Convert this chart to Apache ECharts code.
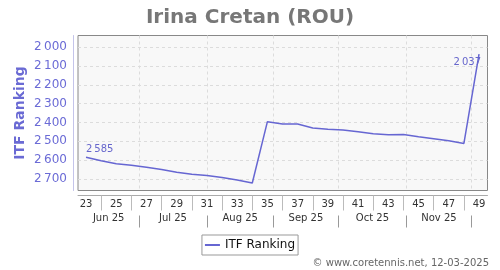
<!DOCTYPE html>
<html>
<head>
<meta charset="utf-8">
<script src="https://cdn.jsdelivr.net/npm/echarts@6.0.0/dist/echarts.min.js"></script>
<style>html,body{margin:0;padding:0;background:#fff}#c{width:500px;height:270px}</style>
</head>
<body>
<div id="c"></div>
<script>
var weeks = [23,24,25,26,27,28,29,30,31,32,33,34,35,36,37,38,39,40,41,42,43,44,45,46,47,48,49];
var ranks = [2585,2604,2620,2628,2638,2650,2665,2675,2682,2693,2706,2722,2396,2408,2409,2430,2437,2441,2450,2460,2465,2464,2476,2487,2498,2512,2037];
var weekLabels = [23,25,27,29,31,33,35,37,39,41,43,45,47,49];
var weekSeparators = [24,26,28,30,32,34,36,38,40,42,44,46,48];
var monthNames = ['Jun 25','Jul 25','Aug 25','Sep 25','Oct 25','Nov 25'];
var monthCenters = [24.5,28.75,33.2,37.55,41.95,46.35];
var monthBounds = [26.5,31,35.4,39.7,44.2,48.5];
var yTicks = [2000,2100,2200,2300,2400,2500,2600,2700];

var XMIN = 22.47, XMAX = 49.56;
var FONT = 'DejaVu Sans';
var LINE = '#6666d2';
var CLEAR = 'rgba(0,0,0,0)';
function fmt(v){ var s = String(v); return s.length > 3 ? s.slice(0, s.length-3) + '\u2009' + s.slice(s.length-3) : s; }

var data = weeks.map(function(w, i){
  var d = {value: [w, ranks[i]]};
  if (i === 0) d.label = {show: true, position: 'top', align: 'left', distance: 2, offset: [0, 0]};
  if (i === weeks.length - 1) d.label = {show: true, position: 'bottom', align: 'right', distance: 3, offset: [2, 0]};
  return d;
});

var chart = echarts.init(document.getElementById('c'), null, {renderer: 'canvas'});
chart.setOption({
  backgroundColor: '#fff',
  animation: false,
  textStyle: {fontFamily: FONT},
  title: {
    text: 'Irina Cretan (ROU)', left: 'center', top: 3,
    textStyle: {fontFamily: FONT, fontSize: 20, fontWeight: 'bold', color: '#777'}
  },
  grid: {
    left: 78, right: 12.5, top: 35.5, bottom: 79.5,
    show: true, backgroundColor: '#f8f8f8', borderColor: '#888', borderWidth: 1
  },
  legend: {
    top: 235, left: 'center',
    data: [{name: 'ITF Ranking', icon: 'rect', itemStyle: {color: LINE, opacity: 1}}],
    itemWidth: 15, itemHeight: 2, itemGap: 5,
    itemStyle: {color: LINE, opacity: 1},
    padding: [4, 3], borderColor: '#999', borderWidth: 1,
    textStyle: {fontFamily: FONT, fontSize: 12, color: '#111'}
  },
  graphic: [{
    type: 'text', right: 11, top: 258,
    style: {text: '\u00a9 www.coretennis.net, 12-03-2025', fontFamily: FONT, fontSize: 10, fill: '#666'}
  }],
  xAxis: [
    {
      type: 'value', min: XMIN, max: XMAX, position: 'bottom', offset: 5,
      axisLine: {show: true, lineStyle: {color: '#aaa', width: 1}},
      axisTick: {show: true, customValues: weekSeparators, length: 15, lineStyle: {color: '#bbb', width: 1}},
      axisLabel: {customValues: weekLabels, margin: 4, fontFamily: FONT, fontSize: 10, color: '#333'},
      splitLine: {show: false}
    },
    {
      type: 'value', min: XMIN, max: XMAX, position: 'bottom', offset: 19,
      axisLine: {show: false},
      axisTick: {show: false},
      axisLabel: {
        customValues: monthCenters, margin: 4, fontFamily: FONT, fontSize: 10, color: '#333',
        formatter: function(v){
          for (var i = 0; i < monthCenters.length; i++) if (Math.abs(monthCenters[i] - v) < 1e-6) return monthNames[i];
          return '';
        }
      },
      splitLine: {show: false}
    },
    {
      type: 'value', min: XMIN, max: XMAX, position: 'bottom', offset: 25,
      axisLine: {show: true, lineStyle: {color: CLEAR}},
      axisTick: {show: true, customValues: monthBounds, length: 12, lineStyle: {color: '#999', width: 1}},
      axisLabel: {show: false},
      splitLine: {show: true, lineStyle: {color: '#dcdcdc', type: [3, 3], width: 1}}
    }
  ],
  yAxis: {
    type: 'value', inverse: true, min: 1938, max: 2762, position: 'left', offset: 5,
    name: 'ITF Ranking', nameLocation: 'middle', nameGap: 46, nameRotate: 90, nameMoveOverlap: false,
    nameTextStyle: {fontFamily: FONT, fontSize: 14, fontWeight: 'bold', color: '#6a6ad4'},
    axisLine: {show: true, lineStyle: {color: '#c4c4ea', width: 1}},
    axisTick: {show: false, customValues: yTicks},
    axisLabel: {customValues: yTicks, margin: 6, fontFamily: FONT, fontSize: 12, color: '#6b6bd6', formatter: fmt},
    splitLine: {show: true, lineStyle: {color: '#dcdcdc', type: [3, 3], width: 1}}
  },
  series: [{
    name: 'ITF Ranking', type: 'line', xAxisIndex: 0,
    data: data,
    symbol: 'circle', symbolSize: 1, showSymbol: true,
    itemStyle: {color: CLEAR},
    lineStyle: {color: LINE, width: 1.5},
    label: {show: false, fontFamily: FONT, fontSize: 10, color: '#6666cc', formatter: function(p){ return fmt(p.value[1]); }},
    emphasis: {disabled: true}
  }]
});
</script>
</body>
</html>
